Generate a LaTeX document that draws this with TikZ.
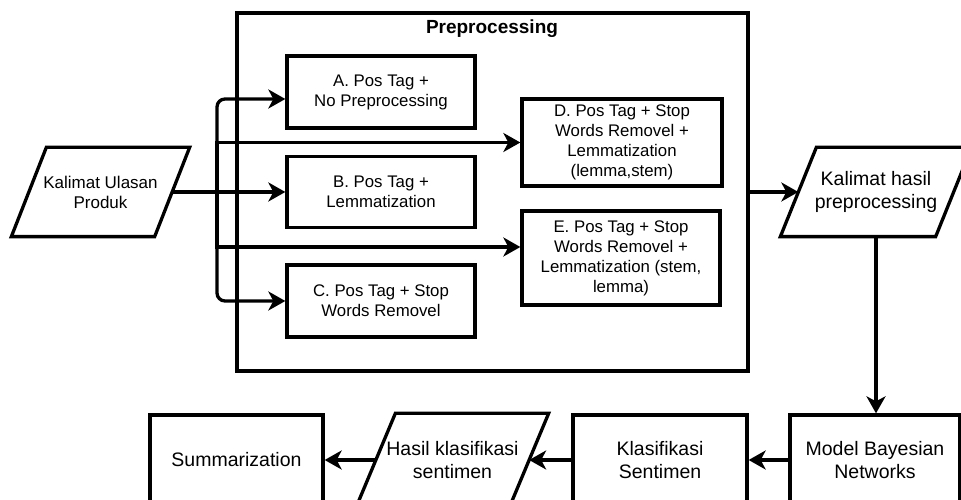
\documentclass[tikz,border=0pt]{standalone}
\usepackage{fontspec}
\setmainfont{Liberation Sans}
\usetikzlibrary{arrows.meta}

\begin{document}
\begin{tikzpicture}[x=1pt,y=1pt,
box/.style={draw,line width=3.3pt,align=center,inner sep=0pt,font=\fontsize{16.8}{20}\selectfont},
io/.style={box,draw=none},
big/.style={font=\fontsize{19.5}{23}\selectfont},
flow/.style={-{Stealth[length=17pt,width=19pt,inset=5pt]},line width=3.3pt},
branch/.style={flow,rounded corners=8pt}]
\useasboundingbox (0,0) rectangle (961,500);
\node[box,minimum width=511pt,minimum height=358pt] (pre) at (492.5,308) {};
\node[font=\bfseries\fontsize{19}{23}\selectfont] (title) at (492,471) {Preprocessing};
\node[io,minimum width=140pt,minimum height=86pt,font=\fontsize{17}{20}\selectfont] (in) at (100.5,308) {Kalimat Ulasan\\Produk};
\node[box,minimum width=188pt,minimum height=72pt] (A) at (381,408) {A. Pos Tag +\\No Preprocessing};
\node[box,minimum width=188pt,minimum height=71pt] (B) at (381,308) {B. Pos Tag +\\Lemmatization};
\node[box,minimum width=188pt,minimum height=72pt] (C) at (381,199) {C. Pos Tag + Stop\\Words Removel};
\node[box,minimum width=200pt,minimum height=87pt] (D) at (622,357.5) {D. Pos Tag + Stop\\Words Removel +\\Lemmatization\\(lemma,stem)};
\node[box,minimum width=198pt,minimum height=94pt] (E) at (621,242) {E. Pos Tag + Stop\\Words Removel +\\Lemmatization (stem,\\lemma)};
\node[io,big,minimum width=152pt,minimum height=86pt] (out) at (876,308) {Kalimat hasil\\preprocessing};
\node[box,big,minimum width=170pt,minimum height=90pt] (mbn) at (875,40) {Model Bayesian\\Networks};
\node[box,big,minimum width=174pt,minimum height=90pt] (ks) at (660,40) {Klasifikasi\\Sentimen};
\node[io,big,minimum width=150pt,minimum height=90pt] (hks) at (452.5,40) {Hasil klasifikasi\\sentimen};
\node[box,big,minimum width=173pt,minimum height=90pt] (sum) at (236.5,40) {Summarization};
% jajaran genjang untuk input/output
\foreach \n/\d in {in/17.5,out/18,hks/19.5}
  \draw[line width=3.3pt,line join=miter] ([xshift=\d]\n.north west) -- ([xshift=\d]\n.north east)
    -- ([xshift=-\d]\n.south east) -- ([xshift=-\d]\n.south west) -- cycle;
% cabang dari kalimat ulasan
\coordinate (split) at (217,308);
\draw[flow] (in) -- (B);
\draw[branch] (split) |- ([yshift=-7pt]A.west);
\draw[flow] (split) |- (D.west);
\draw[flow] (split) |- ([yshift=11pt]E.west);
\draw[branch] (split) |- (C.west);
\draw[flow] (pre.east) -- (out);
\draw[flow] (out) -- (out |- mbn.north);
\draw[flow] (mbn) -- (ks);
\draw[flow] (ks) -- (hks);
\draw[flow] (hks) -- (sum);
\end{tikzpicture}
\end{document}
